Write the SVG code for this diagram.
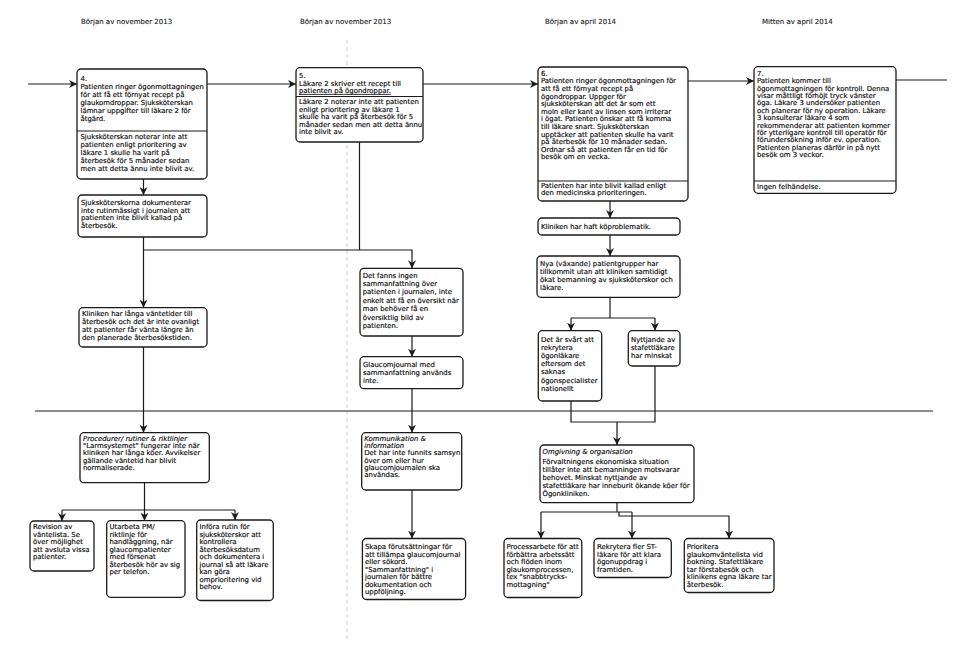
<svg xmlns="http://www.w3.org/2000/svg" width="960" height="648" viewBox="0 0 960 648">
<style>
.bg{fill:#ffffff}
.box{fill:#ffffff;stroke:#1a1a1a;stroke-width:1.3}
.dv{stroke:#1a1a1a;stroke-width:1.1}
.t{font-family:"DejaVu Sans",Verdana,sans-serif;font-size:6.9px;fill:#111111;stroke:#111111;stroke-width:0.18}
.h{font-family:"DejaVu Sans",Verdana,sans-serif;font-size:7px;fill:#222222;stroke:#222222;stroke-width:0.12}
.i{font-style:italic}
.c{fill:none;stroke:#1a1a1a;stroke-width:1.2}
.a{marker-end:url(#arr)}
.guide{fill:none;stroke:#c4c4c4;stroke-width:0.8;stroke-dasharray:4 3}
</style>
<defs>
<marker id="arr" viewBox="0 0 10 10" refX="10" refY="5" markerWidth="8" markerHeight="8" markerUnits="userSpaceOnUse" orient="auto">
<path d="M0,0 L10,5 L0,10 L3,5 z" fill="#1a1a1a"/>
</marker>
</defs>
<rect class="bg" x="0" y="0" width="960" height="648"/>
<line class="guide" x1="347" y1="40" x2="347" y2="640"/>

<g id="headers">
<text class="h" x="81" y="24">Början av november 2013</text>
<text class="h" x="300" y="24">Början av november 2013</text>
<text class="h" x="545" y="24">Början av april 2014</text>
<text class="h" x="762" y="24">Mitten av april 2014</text>
</g>

<g id="connectors">
<path class="c a" d="M28,84 H77"/>
<path class="c a" d="M207,84 H296"/>
<path class="c a" d="M423,84 H538"/>
<path class="c a" d="M688,81 H754"/>
<path class="c" d="M896,80 H947"/>
<path class="c a" d="M143.5,179 V195"/>
<path class="c a" d="M143.5,237 V307.7"/>
<path class="c a" d="M143.5,250 H412 V268.3"/>
<path class="c" d="M359.5,142 V250"/>
<path class="c a" d="M412,336 V356.7"/>
<path class="c a" d="M412,388.7 V432.7"/>
<path class="c a" d="M143.5,347 V432.7"/>
<path class="c a" d="M610,201 V218"/>
<path class="c a" d="M610,235 V256"/>
<path class="c" d="M610,297.3 V318 M571,318 H655"/>
<path class="c a" d="M571,318 V330.7"/>
<path class="c a" d="M655,318 V330.7"/>
<path class="c" d="M571,401 V422 H655 V366"/>
<path class="c a" d="M617,422 V445"/>
<path class="c" d="M35,411 H933"/>
<path class="c" d="M144.5,482.7 V510 M62,510 H235"/>
<path class="c a" d="M62,510 V521"/>
<path class="c a" d="M144.5,510 V520.7"/>
<path class="c a" d="M235,510 V520"/>
<path class="c a" d="M412,490 V538.5"/>
<path class="c" d="M617,502.7 V512 M541,512 H632"/>
<path class="c a" d="M541,512 V538.5"/>
<path class="c a" d="M632,512 V538.5"/>
<path class="c a" d="M619,512 V516 H729 V538.5"/>
</g>

<g id="n4">
<rect class="box" x="77" y="69" width="130" height="110" rx="4"/>
<line class="dv" x1="77" y1="131" x2="207" y2="131"/>
<text class="t"><tspan x="80.5" y="80.5">4.</tspan><tspan x="80.5" y="88.6">Patienten ringer ögonmottagningen</tspan><tspan x="80.5" y="96.7">för att få ett förnyat recept på</tspan><tspan x="80.5" y="104.8">glaukomdroppar. Sjuksköterskan</tspan><tspan x="80.5" y="112.9">lämnar uppgifter till läkare 2 för</tspan><tspan x="80.5" y="121">åtgärd.</tspan></text>
<text class="t"><tspan x="80.5" y="138.5">Sjuksköterskan noterar inte att</tspan><tspan x="80.5" y="146.6">patienten enligt prioritering av</tspan><tspan x="80.5" y="154.7">läkare 1 skulle ha varit på</tspan><tspan x="80.5" y="162.8">återbesök för 5 månader sedan</tspan><tspan x="80.5" y="170.9">men att detta ännu inte blivit av.</tspan></text>
</g>

<g id="n5">
<rect class="box" x="296" y="67.7" width="127" height="74.3" rx="4"/>
<line class="dv" x1="296" y1="96.5" x2="423" y2="96.5"/>
<text class="t"><tspan x="299" y="78.2">5.</tspan><tspan x="299" y="85.8">Läkare 2 skriver ett recept till</tspan></text>
<text class="t" x="299" y="93" text-decoration="underline">patienten på ögondroppar.</text>
<text class="t"><tspan x="299" y="104">Läkare 2 noterar inte att patienten</tspan><tspan x="299" y="111.6">enligt prioritering av läkare 1</tspan><tspan x="299" y="119.2">skulle ha varit på återbesök för 5</tspan><tspan x="299" y="126.8">månader sedan men att detta ännu</tspan><tspan x="299" y="134.4">inte blivit av.</tspan></text>
</g>

<g id="n6">
<rect class="box" x="538" y="67" width="150" height="134" rx="4"/>
<line class="dv" x1="538" y1="181" x2="688" y2="181"/>
<text class="t"><tspan x="541" y="75.8">6.</tspan><tspan x="541" y="83.4">Patienten ringer ögonmottagningen för</tspan><tspan x="541" y="91">att få ett förnyat recept på</tspan><tspan x="541" y="98.6">ögondroppar. Uppger för</tspan><tspan x="541" y="106.2">sjuksköterskan att det är som ett</tspan><tspan x="541" y="113.8">moln eller kant av linsen som irriterar</tspan><tspan x="541" y="121.4">i ögat. Patienten önskar att få komma</tspan><tspan x="541" y="129">till läkare snart. Sjuksköterskan</tspan><tspan x="541" y="136.6">upptäcker att patienten skulle ha varit</tspan><tspan x="541" y="144.2">på återbesök för 10 månader sedan.</tspan><tspan x="541" y="151.8">Ordnar så att patienten får en tid för</tspan><tspan x="541" y="159.4">besök om en vecka.</tspan></text>
<text class="t"><tspan x="541" y="188">Patienten har inte blivit kallad enligt</tspan><tspan x="541" y="195.4">den medicinska prioriteringen.</tspan></text>
</g>

<g id="n7">
<rect class="box" x="754" y="66.7" width="142" height="126.6" rx="4"/>
<line class="dv" x1="754" y1="181" x2="896" y2="181"/>
<text class="t"><tspan x="757" y="75.8">7.</tspan><tspan x="757" y="83.2">Patienten kommer till</tspan><tspan x="757" y="90.6">ögonmottagningen för kontroll. Denna</tspan><tspan x="757" y="98">visar måttligt förhöjt tryck vänster</tspan><tspan x="757" y="105.4">öga. Läkare 3 undersöker patienten</tspan><tspan x="757" y="112.8">och planerar för ny operation. Läkare</tspan><tspan x="757" y="120.2">3 konsulterar läkare 4 som</tspan><tspan x="757" y="127.6">rekommenderar att patienten kommer</tspan><tspan x="757" y="135">för ytterligare kontroll till operatör för</tspan><tspan x="757" y="142.4">förundersökning inför ev. operation.</tspan><tspan x="757" y="149.8">Patienten planeras därför in på nytt</tspan><tspan x="757" y="157.2">besök om 3 veckor.</tspan></text>
<text class="t" x="757" y="189.2">Ingen felhändelse.</text>
</g>

<g id="n_sjuk">
<rect class="box" x="78" y="195" width="129" height="42" rx="4"/>
<text class="t"><tspan x="81" y="204.6">Sjuksköterskorna dokumenterar</tspan><tspan x="81" y="212.5">inte rutinmässigt i journalen att</tspan><tspan x="81" y="220.4">patienten inte blivit kallad på</tspan><tspan x="81" y="228.3">återbesök.</tspan></text>
</g>

<g id="n_klin">
<rect class="box" x="79" y="307.7" width="128" height="39.3" rx="4"/>
<text class="t"><tspan x="82" y="315.5">Kliniken har långa väntetider till</tspan><tspan x="82" y="323.8">återbesök och det är inte ovanligt</tspan><tspan x="82" y="332.1">att patienter får vänta längre än</tspan><tspan x="82" y="340.4">den planerade återbesökstiden.</tspan></text>
</g>

<g id="n_det">
<rect class="box" x="360" y="268.3" width="103" height="67.7" rx="4"/>
<text class="t"><tspan x="362.7" y="277.5">Det fanns ingen</tspan><tspan x="362.7" y="285.9">sammanfattning över</tspan><tspan x="362.7" y="294.3">patienten i journalen, inte</tspan><tspan x="362.7" y="302.7">enkelt att få en översikt när</tspan><tspan x="362.7" y="311.1">man behöver få en</tspan><tspan x="362.7" y="319.5">översiktlig bild av</tspan><tspan x="362.7" y="327.9">patienten.</tspan></text>
</g>

<g id="n_glauc">
<rect class="box" x="360" y="356.7" width="103" height="32" rx="4"/>
<text class="t"><tspan x="363" y="366.8">Glaucomjournal med</tspan><tspan x="363" y="375.1">sammanfattning används</tspan><tspan x="363" y="383.4">inte.</tspan></text>
</g>

<g id="n_kop">
<rect class="box" x="538" y="218" width="142" height="17" rx="4"/>
<text class="t" x="541" y="229.3">Kliniken har haft köproblematik.</text>
</g>

<g id="n_nya">
<rect class="box" x="537" y="256" width="143" height="41.3" rx="4"/>
<text class="t"><tspan x="540" y="265.8">Nya (växande) patientgrupper har</tspan><tspan x="540" y="273.9">tillkommit utan att kliniken samtidigt</tspan><tspan x="540" y="282">ökat bemanning av sjuksköterskor och</tspan><tspan x="540" y="290.1">läkare.</tspan></text>
</g>

<g id="n_svart">
<rect class="box" x="538.3" y="330.7" width="63.4" height="70.3" rx="4"/>
<text class="t"><tspan x="541" y="341.5">Det är svårt att</tspan><tspan x="541" y="349.7">rekrytera</tspan><tspan x="541" y="357.9">ögonläkare</tspan><tspan x="541" y="366.1">eftersom det</tspan><tspan x="541" y="374.3">saknas</tspan><tspan x="541" y="382.5">ögonspecialister</tspan><tspan x="541" y="390.7">nationellt</tspan></text>
</g>

<g id="n_nytt">
<rect class="box" x="628.3" y="330.7" width="51.7" height="35.3" rx="4"/>
<text class="t"><tspan x="631" y="341.5">Nyttjande av</tspan><tspan x="631" y="349.7">stafettläkare</tspan><tspan x="631" y="357.9">har minskat</tspan></text>
</g>

<g id="n_proc">
<rect class="box" x="80" y="432.7" width="129.3" height="50" rx="4"/>
<text class="t"><tspan class="i" x="83" y="440.8">Procedurer/ rutiner &amp; riktlinjer</tspan><tspan x="83" y="448.1">"Larmsystemet" fungerar inte när</tspan><tspan x="83" y="455.4">kliniken har långa köer. Avvikelser</tspan><tspan x="83" y="462.7">gällande väntetid har blivit</tspan><tspan x="83" y="470">normaliserade.</tspan></text>
</g>

<g id="n_komm">
<rect class="box" x="361.7" y="432.7" width="100" height="57.3" rx="4"/>
<text class="t"><tspan class="i" x="364.3" y="440.8">Kommunikation &amp;</tspan><tspan class="i" x="364.3" y="448.1">information</tspan><tspan x="364.3" y="455.4">Det har inte funnits samsyn</tspan><tspan x="364.3" y="462.7">över om eller hur</tspan><tspan x="364.3" y="470">glaucomjournalen ska</tspan><tspan x="364.3" y="477.3">användas.</tspan></text>
</g>

<g id="n_omg">
<rect class="box" x="540" y="445" width="154" height="57.7" rx="4"/>
<text class="t"><tspan class="i" x="542.5" y="454.2">Omgivning &amp; organisation</tspan><tspan x="542.5" y="463.7">Förvaltningens ekonomiska situation</tspan><tspan x="542.5" y="471.7">tillåter inte att bemanningen motsvarar</tspan><tspan x="542.5" y="479.7">behovet. Minskat nyttjande av</tspan><tspan x="542.5" y="487.7">stafettläkare har inneburit ökande köer för</tspan><tspan x="542.5" y="495.7">Ögonkliniken.</tspan></text>
</g>

<g id="n_rev">
<rect class="box" x="30" y="521" width="64" height="50" rx="4"/>
<text class="t"><tspan x="33" y="529">Revision av</tspan><tspan x="33" y="536.5">väntelista. Se</tspan><tspan x="33" y="544">över möjlighet</tspan><tspan x="33" y="551.5">att avsluta vissa</tspan><tspan x="33" y="559">patienter.</tspan></text>
</g>

<g id="n_utarb">
<rect class="box" x="106.7" y="520.7" width="78.3" height="76.6" rx="4"/>
<text class="t"><tspan x="109.5" y="529.2">Utarbeta PM/</tspan><tspan x="109.5" y="536.7">riktlinje för</tspan><tspan x="109.5" y="544.2">handläggning, när</tspan><tspan x="109.5" y="551.7">glaucompatienter</tspan><tspan x="109.5" y="559.2">med försenat</tspan><tspan x="109.5" y="566.7">återbesök hör av sig</tspan><tspan x="109.5" y="574.2">per telefon.</tspan></text>
</g>

<g id="n_infora">
<rect class="box" x="196.7" y="520" width="76.6" height="80.5" rx="4"/>
<text class="t"><tspan x="199.5" y="529.2">Införa rutin för</tspan><tspan x="199.5" y="536.7">sjuksköterskor att</tspan><tspan x="199.5" y="544.2">kontrollera</tspan><tspan x="199.5" y="551.7">återbesöksdatum</tspan><tspan x="199.5" y="559.2">och dokumentera i</tspan><tspan x="199.5" y="566.7">journal så att läkare</tspan><tspan x="199.5" y="574.2">kan göra</tspan><tspan x="199.5" y="581.7">omprioritering vid</tspan><tspan x="199.5" y="589.2">behov.</tspan></text>
</g>

<g id="n_skapa">
<rect class="box" x="362.4" y="538.5" width="103.2" height="61" rx="4"/>
<text class="t"><tspan x="365" y="549">Skapa förutsättningar för</tspan><tspan x="365" y="556.5">att tillämpa glaucomjournal</tspan><tspan x="365" y="564">eller sökord.</tspan><tspan x="365" y="571.5">"Sammanfattning" i</tspan><tspan x="365" y="579">journalen för bättre</tspan><tspan x="365" y="586.5">dokumentation och</tspan><tspan x="365" y="594">uppföljning.</tspan></text>
</g>

<g id="n_process">
<rect class="box" x="504" y="538.5" width="77.8" height="59" rx="4"/>
<text class="t"><tspan x="506.5" y="549">Processarbete för att</tspan><tspan x="506.5" y="556.5">förbättra arbetssätt</tspan><tspan x="506.5" y="564">och flöden inom</tspan><tspan x="506.5" y="571.5">glaukomprocessen,</tspan><tspan x="506.5" y="579">tex "snabbtrycks-</tspan><tspan x="506.5" y="586.5">mottagning"</tspan></text>
</g>

<g id="n_rekr">
<rect class="box" x="594" y="538.5" width="77.3" height="39" rx="4"/>
<text class="t"><tspan x="597" y="549">Rekrytera fler ST-</tspan><tspan x="597" y="556.5">läkare för att klara</tspan><tspan x="597" y="564">ögonuppdrag i</tspan><tspan x="597" y="571.5">framtiden.</tspan></text>
</g>

<g id="n_prio">
<rect class="box" x="684.3" y="538.5" width="89.7" height="54" rx="4"/>
<text class="t"><tspan x="686.8" y="549">Prioritera</tspan><tspan x="686.8" y="556.5">glaukomväntelista vid</tspan><tspan x="686.8" y="564">bokning. Stafettläkare</tspan><tspan x="686.8" y="571.5">tar förstabesök och</tspan><tspan x="686.8" y="579">klinikens egna läkare tar</tspan><tspan x="686.8" y="586.5">återbesök.</tspan></text>
</g>
</svg>
